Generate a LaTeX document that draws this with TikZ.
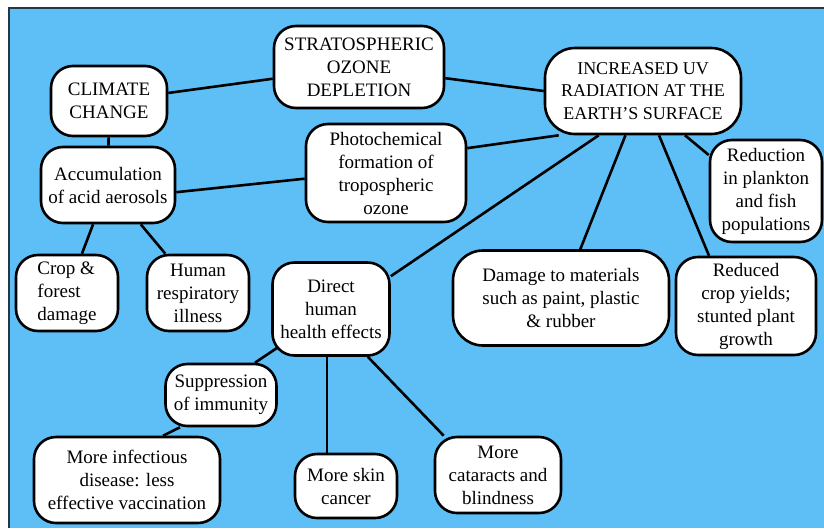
\documentclass[tikz,border=0pt]{standalone}
\usepackage{fontspec}
\setmainfont{Liberation Serif}
\usepackage{tikz}

\definecolor{sky}{RGB}{94,190,246}
\definecolor{rim}{RGB}{35,55,70}

\begin{document}
\begin{tikzpicture}[
    x=1pt, y=-1pt,
    box/.style={rectangle, draw=black, fill=white, line width=2.6pt, rounded corners=22pt,
        align=center, inner sep=2pt, font=\fontsize{19}{23}\selectfont},
    link/.style={line width=2.6pt}
]
\useasboundingbox (0,0) rectangle (824,528);

% Background panel
\fill[sky] (9,8) rectangle (824,528);
\draw[rim, line width=2pt] (9,528) -- (9,8) -- (824,8);

% Top row
\node[box, minimum width=170pt, minimum height=82pt] (sod) at (359,67) {STRATOSPHERIC\\OZONE\\DEPLETION};
\node[box, minimum width=116pt, minimum height=70pt] (cc) at (109,101) {CLIMATE\\CHANGE};
\node[box, minimum width=196pt, minimum height=86pt, rounded corners=30pt,
      font=\fontsize{18}{22.5}\selectfont] (uv) at (643,91) {INCREASED UV\\RADIATION AT THE\\EARTH’S SURFACE};

% Second row
\node[box, minimum width=134pt, minimum height=76pt] (acc) at (108,185) {Accumulation\\of acid aerosols};
\node[box, minimum width=160pt, minimum height=98pt] (photo) at (386,173) {Photochemical\\formation of\\tropospheric\\ozone};
\node[box, minimum width=112pt, minimum height=102pt] (plankton) at (766,191) {Reduction\\in plankton\\and fish\\populations};

% Third row
\node[box, minimum width=102pt, minimum height=76pt, align=left] (crop) at (67,293) {Crop \&\\forest\\damage};
\node[box, minimum width=102pt, minimum height=76pt] (resp) at (198,293) {Human\\respiratory\\illness};
\node[box, minimum width=117pt, minimum height=93pt] (direct) at (331,309) {Direct\\human\\health effects};
\node[box, minimum width=216pt, minimum height=95pt, rounded corners=30pt] (damage) at (561,298) {Damage to materials\\such as paint, plastic\\\& rubber};
\node[box, minimum width=140pt, minimum height=98pt] (yields) at (746,306) {Reduced\\crop yields;\\stunted plant\\growth};

% Health effects
\node[box, minimum width=111pt, minimum height=62pt] (supp) at (221,395) {Suppression\\of immunity};
\node[box, minimum width=186pt, minimum height=86pt] (infect) at (127,480) {More infectious\\disease: less\\effective vaccination};
\node[box, minimum width=102pt, minimum height=64pt] (skin) at (346,486) {More skin\\cancer};
\node[box, minimum width=126pt, minimum height=76pt] (cat) at (498,475) {More\\cataracts and\\blindness};

% Links
\foreach \a/\b in {cc/sod, cc/acc, acc/crop, acc/resp, uv/damage}
   \draw[link] (\a) -- (\b);
\draw[link] (sod) -- (uv.west);
\draw[link] (acc.-6) -- (photo.184);
\draw[link] (photo.17) -- ([xshift=15pt]uv.south west);
\draw[link] ([xshift=55pt]uv.south west) -- ([yshift=-15pt]direct.north east);
\draw[link] ([xshift=16pt]uv.south) -- ([xshift=-37pt]yields.north);
\draw[link] ([xshift=42pt]uv.south) -- ([yshift=36pt]plankton.west);
\draw[link] ([shift={(6pt,9pt)}]direct.south west) -- ([xshift=34pt]supp.north);
\draw[link] ([xshift=-41pt]supp.south) -- ([xshift=36pt]infect.north);
\draw[link] ([xshift=-4pt]direct.south) -- ([xshift=-4pt]direct.south |- skin.north);
\draw[link] ([xshift=-23pt]direct.south east) -- ([xshift=10pt]cat.north west);

\end{tikzpicture}
\end{document}
